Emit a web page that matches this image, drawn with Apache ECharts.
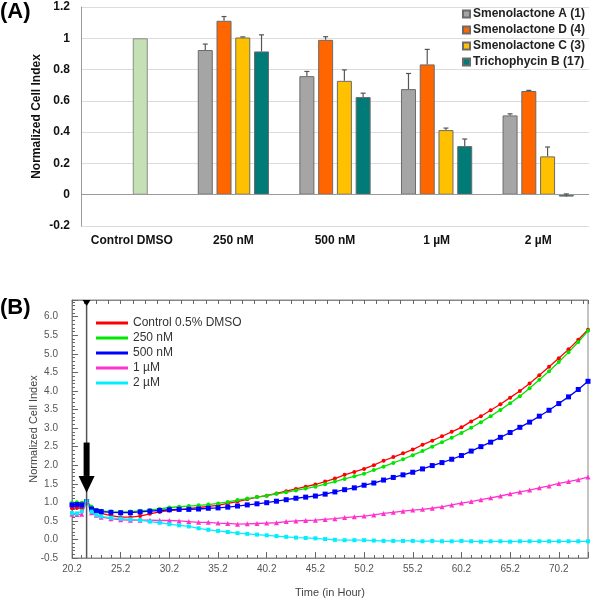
<!DOCTYPE html>
<html>
<head>
<meta charset="utf-8">
<script src="https://cdn.jsdelivr.net/npm/echarts@6/dist/echarts.min.js"></script>
<style>
html,body{margin:0;padding:0;background:#fff;}
#chart{width:593px;height:600px;}
</style>
</head>
<body>
<div id="chart"></div>
<script>
// ---------- Panel A data ----------
const catsA = ['Control DMSO', '250 nM', '500 nM', '1 µM', '2 µM'];
const yTicksA = [-0.2, 0, 0.2, 0.4, 0.6, 0.8, 1, 1.2];
const controlA = [1.0, '-', '-', '-', '-'];
const smenA = ['-', 0.925, 0.758, 0.675, 0.507];
const smenAErr = ['-', 0.038, 0.030, 0.100, 0.010];
const smenD = ['-', 1.112, 0.990, 0.833, 0.663];
const smenDErr = ['-', 0.027, 0.020, 0.096, 0.004];
const smenC = ['-', 1.005, 0.728, 0.413, 0.245];
const smenCErr = ['-', 0.004, 0.070, 0.013, 0.060];
const trichB = ['-', 0.916, 0.624, 0.311, -0.012];
const trichBErr = ['-', 0.106, 0.025, 0.045, 0.017];
const namesA = ['Smenolactone A (1)', 'Smenolactone D (4)', 'Smenolactone C (3)', 'Trichophycin B (17)'];

// ---------- Panel B data ----------
const timesB = [20.2,20.7,21.2,21.7,22.2,22.7,23.2,24.2,25.2,26.2,27.2,28.2,29.2,30.2,31.2,32.2,33.2,34.2,35.2,36.2,37.2,38.2,39.2,40.2,41.2,42.2,43.2,44.2,45.2,46.2,47.2,48.2,49.2,50.2,51.2,52.2,53.2,54.2,55.2,56.2,57.2,58.2,59.2,60.2,61.2,62.2,63.2,64.2,65.2,66.2,67.2,68.2,69.2,70.2,71.2,72.2,73.2];
const control05 = [0.84,0.85,0.84,1.02,0.85,0.75,0.70,
  0.64,0.60,0.60,0.63,0.69,0.74,0.78,0.80,0.83,0.86,
  0.89,0.92,0.97,1.02,1.08,1.14,1.18,1.24,1.30,1.36,
  1.42,1.48,1.56,1.64,1.74,1.82,1.90,2.00,2.12,2.22,
  2.32,2.42,2.55,2.66,2.78,2.90,3.02,3.18,3.32,3.48,
  3.64,3.82,4.00,4.20,4.42,4.65,4.88,5.12,5.38,5.65];
const nm250 = [0.99,1.00,0.99,1.03,0.88,0.80,0.77,
  0.75,0.74,0.75,0.77,0.79,0.82,0.86,0.88,0.90,0.92,
  0.94,0.97,1.01,1.06,1.10,1.14,1.18,1.23,1.27,1.32,
  1.37,1.42,1.49,1.56,1.63,1.70,1.77,1.87,1.96,2.06,
  2.16,2.27,2.38,2.50,2.62,2.74,2.87,3.01,3.16,3.32,
  3.49,3.67,3.86,4.07,4.30,4.53,4.78,5.04,5.32,5.62];
const nm500 = [0.93,0.94,0.93,1.02,0.82,0.77,0.75,
  0.73,0.72,0.72,0.74,0.76,0.78,0.80,0.81,0.81,0.82,
  0.84,0.85,0.87,0.90,0.93,0.96,0.99,1.03,1.07,1.11,
  1.14,1.17,1.22,1.28,1.34,1.39,1.46,1.52,1.60,1.67,
  1.74,1.81,1.90,1.99,2.07,2.16,2.26,2.38,2.50,2.62,
  2.75,2.88,3.02,3.16,3.32,3.48,3.66,3.84,4.04,4.26];
const um1 = [0.68,0.67,0.68,1.02,0.72,0.65,0.60,
  0.56,0.53,0.52,0.52,0.52,0.51,0.51,0.50,0.48,0.46,
  0.46,0.44,0.43,0.41,0.42,0.43,0.44,0.45,0.48,0.50,
  0.51,0.52,0.54,0.56,0.59,0.61,0.63,0.66,0.70,0.73,
  0.76,0.79,0.81,0.84,0.88,0.93,0.98,1.02,1.07,1.12,
  1.17,1.23,1.28,1.33,1.39,1.44,1.51,1.56,1.61,1.68];
const um2 = [0.71,0.70,0.76,1.03,0.75,0.66,0.62,
  0.58,0.56,0.54,0.52,0.48,0.45,0.41,0.38,0.35,0.30,
  0.26,0.23,0.20,0.17,0.15,0.13,0.11,0.09,0.07,0.05,
  0.04,0.03,0.01,-0.01,-0.02,-0.02,-0.02,-0.03,-0.04,-0.04,
  -0.04,-0.04,-0.05,-0.04,-0.05,-0.05,-0.04,-0.05,-0.06,-0.05,
  -0.05,-0.06,-0.05,-0.05,-0.05,-0.05,-0.05,-0.05,-0.05,-0.05];
const namesB = ['Control 0.5% DMSO', '250 nM', '500 nM', '1 µM', '2 µM'];
const xTickLabelsB = ['20.2','25.2','30.2','35.2','40.2','45.2','50.2','55.2','60.2','65.2','70.2'];
const drugTime = 21.7;      // time of compound addition (vertical line)
const arrowTop = 2.61, arrowHeadBase = 1.71, arrowTip = 1.26;

// x axis of panel B counted from 20.0 so ticks land on x.2 hours
const X_SHIFT = 0.2;

const FONT = 'Liberation Sans, Arial, Helvetica, sans-serif';
const colorsA = ['#a5a5a5', '#ff6600', '#ffc000', '#007b78'];
const colorsB = ['#ff0000', '#00e600', '#0000ff', '#ff33cc', '#00eeff'];
const symbolsB = ['circle', 'circle', 'rect', 'triangle', 'rect'];
const symSizeB = [4, 4, 5, 5, 4];

const valsA = [smenA, smenD, smenC, trichB];
const errsA = [smenAErr, smenDErr, smenCErr, trichBErr];

const series = [];

// Panel A bars
valsA.forEach((vals, k) => {
  series.push({
    name: namesA[k], type: 'bar', xAxisIndex: 0, yAxisIndex: 0,
    data: vals, barWidth: 15, barGap: '25%',
    itemStyle: { color: colorsA[k], borderColor: '#6b6b6b', borderWidth: 1 },
    z: 3,
    markLine: k === 0 ? {
      silent: true, symbol: 'none', label: { show: false },
      lineStyle: { color: '#9a9a9a', type: 'solid', width: 1 },
      data: [{ yAxis: 0 }]
    } : undefined
  });
});
// control bar (slightly offset like the original), with an empty pad series
series.push({ name: 'pad', type: 'bar', xAxisIndex: 1, yAxisIndex: 0,
  data: ['-', '-', '-', '-', '-'], barWidth: 15, barGap: '13%' });
series.push({ name: 'Control DMSO', type: 'bar', xAxisIndex: 1, yAxisIndex: 0,
  data: controlA, barWidth: 15, barGap: '13%',
  itemStyle: { color: '#c5e0b4', borderColor: '#8c8c8c', borderWidth: 1 }, z: 3 });

// Panel A error bars
valsA.forEach((vals, k) => {
  const data = [];
  vals.forEach((v, i) => { if (v !== '-') data.push([i, v, errsA[k][i]]); });
  series.push({
    name: namesA[k] + ' err', type: 'custom', xAxisIndex: 0, yAxisIndex: 0, z: 5,
    data: data,
    renderItem: function (params, api) {
      const layout = api.barLayout({ count: 4, barWidth: 15, barGap: '25%' });
      const off = layout[k].offsetCenter;
      const base = api.coord([api.value(0), api.value(1)]);
      const top = api.coord([api.value(0), api.value(1) + api.value(2)]);
      const x = base[0] + off;
      const st = { stroke: '#555', lineWidth: 1.2 };
      return { type: 'group', children: [
        { type: 'line', shape: { x1: x, y1: base[1], x2: x, y2: top[1] }, style: st },
        { type: 'line', shape: { x1: x - 2.5, y1: top[1], x2: x + 2.5, y2: top[1] }, style: st }
      ]};
    }
  });
});

// Panel B lines
[control05, nm250, nm500, um1, um2].forEach((vals, k) => {
  series.push({
    name: namesB[k], type: 'line', xAxisIndex: 2, yAxisIndex: 1,
    data: timesB.map((t, i) => [t - X_SHIFT, vals[i]]),
    symbol: symbolsB[k], symbolSize: symSizeB[k], showAllSymbol: true,
    lineStyle: { color: colorsB[k], width: 1.3 },
    itemStyle: { color: colorsB[k] },
    z: 4
  });
});

// Panel B annotation: vertical line, top triangle, big arrow
series.push({
  name: 'addition', type: 'custom', xAxisIndex: 2, yAxisIndex: 1, z: 6,
  data: [[drugTime - X_SHIFT]],
  clip: false,
  renderItem: function (params, api) {
    const cs = params.coordSys;
    const x = api.coord([api.value(0), 0])[0];
    const yTop = api.coord([api.value(0), arrowTop])[1];
    const yBase = api.coord([api.value(0), arrowHeadBase])[1];
    const yTip = api.coord([api.value(0), arrowTip])[1];
    return { type: 'group', children: [
      { type: 'line', shape: { x1: x, y1: cs.y, x2: x, y2: cs.y + cs.height }, style: { stroke: '#555', lineWidth: 1.5 } },
      { type: 'polygon', shape: { points: [[x - 4, cs.y], [x + 4, cs.y], [x, cs.y + 6]] }, style: { fill: '#000' } },
      { type: 'rect', shape: { x: x - 3, y: yTop, width: 6, height: yBase - yTop }, style: { fill: '#000' } },
      { type: 'polygon', shape: { points: [[x - 8, yBase], [x + 8, yBase], [x, yTip]] }, style: { fill: '#000' } }
    ]};
  }
});

const option = {
  animation: false,
  backgroundColor: '#fff',
  textStyle: { fontFamily: FONT },
  graphic: [
    { type: 'text', left: 0, top: 1, style: { text: '(A)', font: 'bold 22px ' + FONT, fill: '#000' } },
    { type: 'text', left: 0, top: 297, style: { text: '(B)', font: 'bold 22px ' + FONT, fill: '#000' } }
  ],
  legend: [
    {
      data: namesA, orient: 'vertical', right: 8, top: 8, padding: 0,
      itemWidth: 7, itemHeight: 7, itemGap: 4, icon: 'rect',
      textStyle: { fontFamily: FONT, fontWeight: 'bold', fontSize: 12, color: '#222', padding: [0, 0, 0, -2] }
    },
    {
      data: namesB, orient: 'vertical', left: 96, top: 317, padding: 0,
      itemWidth: 32, itemHeight: 3, itemGap: 3, icon: 'rect',
      textStyle: { fontFamily: FONT, fontSize: 12, color: '#333' }
    }
  ],
  grid: [
    { left: 81, right: 4, top: 7, height: 219, containLabel: false },
    { left: 72, right: 5, top: 300, height: 258, show: true, borderColor: '#888', borderWidth: 1, backgroundColor: 'transparent' }
  ],
  xAxis: [
    { type: 'category', gridIndex: 0, data: catsA,
      axisLine: { show: false, onZero: false }, axisTick: { show: false },
      axisLabel: { margin: 9, fontFamily: FONT, fontWeight: 'bold', fontSize: 12, color: '#111', interval: 0 } },
    { type: 'category', gridIndex: 0, data: catsA, show: false },
    { type: 'value', gridIndex: 1, position: 'bottom', min: 20, max: 73, interval: 5,
      name: 'Time (in Hour)', nameLocation: 'middle', nameGap: 29, nameMoveOverlap: false,
      nameTextStyle: { fontFamily: FONT, fontSize: 11, color: '#444' },
      axisLine: { show: true, onZero: false, lineStyle: { color: '#888' } },
      axisTick: { show: true, inside: true, length: 6, lineStyle: { color: '#666' } },
      minorTick: { show: true, splitNumber: 5, length: 3, lineStyle: { color: '#666' } },
      splitLine: { show: false },
      axisLabel: { margin: 6, fontFamily: FONT, fontSize: 10, color: '#555',
        formatter: v => (Math.abs(v % 5) < 1e-6 && v <= 70.01) ? (v + X_SHIFT).toFixed(1) : '' } },
    { type: 'value', gridIndex: 1, position: 'top', min: 0, max: 42.4, interval: 1,
      axisLine: { show: true, onZero: false, lineStyle: { color: '#888' } },
      axisTick: { show: true, inside: true, length: 4, lineStyle: { color: '#666' } },
      axisLabel: { show: false }, splitLine: { show: false } }
  ],
  yAxis: [
    { type: 'value', gridIndex: 0, min: -0.2, max: 1.2, interval: 0.2,
      name: 'Normalized Cell Index', nameLocation: 'middle', nameGap: 38, nameMoveOverlap: false,
      nameTextStyle: { fontFamily: FONT, fontWeight: 'bold', fontSize: 12, color: '#111' },
      axisLine: { show: true, lineStyle: { color: '#9a9a9a' } }, axisTick: { show: false },
      splitLine: { show: true, lineStyle: { color: '#dcdcdc' } },
      axisLabel: { margin: 11, fontFamily: FONT, fontWeight: 'bold', fontSize: 12, color: '#111',
        formatter: v => String(Math.round(v * 10) / 10) } },
    { type: 'value', gridIndex: 1, min: -0.5, max: 6.45, interval: 0.5,
      name: 'Normalized Cell Index', nameLocation: 'middle', nameGap: 33, nameMoveOverlap: false,
      nameTextStyle: { fontFamily: FONT, fontSize: 11, color: '#444' },
      axisLine: { show: true, onZero: false, lineStyle: { color: '#888' } },
      axisTick: { show: true, inside: true, length: 6, lineStyle: { color: '#666' } },
      minorTick: { show: true, splitNumber: 5, length: 3, lineStyle: { color: '#666' } },
      splitLine: { show: false },
      axisLabel: { margin: 14, fontFamily: FONT, fontSize: 10, color: '#555',
        formatter: v => (Math.abs(v * 2 - Math.round(v * 2)) < 1e-6) ? v.toFixed(1) : '' } }
  ],
  series: series
};

const chart = echarts.init(document.getElementById('chart'), null, { renderer: 'canvas' });
chart.setOption(option);
</script>
</body>
</html>
